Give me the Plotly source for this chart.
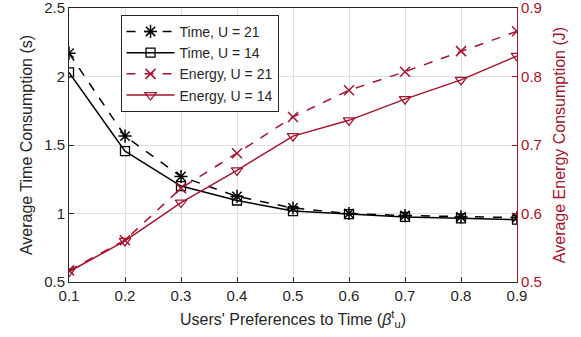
import plotly.graph_objects as go

beta = [0.1, 0.2, 0.3, 0.4, 0.5, 0.6, 0.7, 0.8, 0.9]
time_u21 = [2.17, 1.565, 1.27, 1.125, 1.04, 1.0, 0.985, 0.975, 0.97]
time_u14 = [2.03, 1.455, 1.20, 1.095, 1.018, 0.995, 0.975, 0.965, 0.955]
energy_u21 = [0.517, 0.561, 0.637, 0.688, 0.741, 0.780, 0.807, 0.837, 0.866]
energy_u14 = [0.515, 0.560, 0.616, 0.663, 0.713, 0.736, 0.767, 0.795, 0.830]

RED = "#A2142F"
FONT = "Liberation Sans"

fig = go.Figure()
fig.add_trace(go.Scatter(
    x=beta, y=time_u21, name="Time, U = 21", mode="lines+markers",
    line=dict(color="black", width=1.5, dash="dash"),
    marker=dict(symbol="asterisk-open", size=11, color="black", line=dict(width=1.5, color="black")),
))
fig.add_trace(go.Scatter(
    x=beta, y=time_u14, name="Time, U = 14", mode="lines+markers",
    line=dict(color="black", width=1.5),
    marker=dict(symbol="square-open", size=9, color="black", line=dict(width=1.3)),
))
fig.add_trace(go.Scatter(
    x=beta, y=energy_u21, name="Energy, U = 21", mode="lines+markers", yaxis="y2",
    line=dict(color=RED, width=1.5, dash="dash"),
    marker=dict(symbol="x-thin-open", size=10, color=RED, line=dict(width=1.5, color=RED)),
))
fig.add_trace(go.Scatter(
    x=beta, y=energy_u14, name="Energy, U = 14", mode="lines+markers", yaxis="y2",
    line=dict(color=RED, width=1.5),
    marker=dict(symbol="triangle-down-open", size=10, color=RED, line=dict(width=1.3)),
))

fig.update_layout(
    width=581, height=337,
    margin=dict(l=69, r=64, t=8, b=55),
    paper_bgcolor="white", plot_bgcolor="white",
    font=dict(family=FONT, size=14, color="#262626"),
    xaxis=dict(
        range=[0.1, 0.9], tickvals=beta, ticktext=[f"{v:.1f}" for v in beta],
        showgrid=True, gridcolor="#DFDFDF", gridwidth=1,
        ticks="inside", ticklen=5, tickcolor="#262626",
        showline=True, linecolor="#262626", linewidth=1, mirror=True,
        zeroline=False, tickfont=dict(size=15), automargin=False,
        ticklabeloverflow="allow",
        title=dict(text="Users' Preferences to Time (<i>β</i><sup>t</sup><sub>u</sub>)",
                   font=dict(size=16), standoff=10),
    ),
    yaxis=dict(
        range=[0.5, 2.5], tickvals=[0.5, 1, 1.5, 2, 2.5],
        ticktext=["0.5", "1", "1.5", "2", "2.5"],
        showgrid=True, gridcolor="#DFDFDF", gridwidth=1,
        ticks="inside", ticklen=5, tickcolor="#262626",
        showline=True, linecolor="#262626", linewidth=1,
        zeroline=False, tickfont=dict(size=15), automargin=False,
        ticklabeloverflow="allow",
        title=dict(text="Average Time Consumption (s)", font=dict(size=16), standoff=7),
    ),
    yaxis2=dict(
        range=[0.5, 0.9], tickvals=[0.5, 0.6, 0.7, 0.8, 0.9],
        ticktext=["0.5", "0.6", "0.7", "0.8", "0.9"],
        overlaying="y", side="right", showgrid=False,
        ticks="inside", ticklen=5, tickcolor=RED,
        showline=True, linecolor=RED, linewidth=1.2,
        zeroline=False, tickfont=dict(size=15, color=RED), automargin=False,
        ticklabeloverflow="allow",
        title=dict(text="Average Energy Consumption (J)", font=dict(size=16, color=RED), standoff=12),
    ),
    legend=dict(
        x=0.115, y=0.975, xanchor="left", yanchor="top",
        bgcolor="white", bordercolor="#262626", borderwidth=1,
        font=dict(size=14), tracegroupgap=0, itemwidth=48,
    ),
    showlegend=True,
)

# the page body has a default 8px margin; remove it so the figure sits at the window origin
fig.write_html(
    "out.html",
    config={"displayModeBar": False},
    post_script="document.body.style.margin='0';",
)
